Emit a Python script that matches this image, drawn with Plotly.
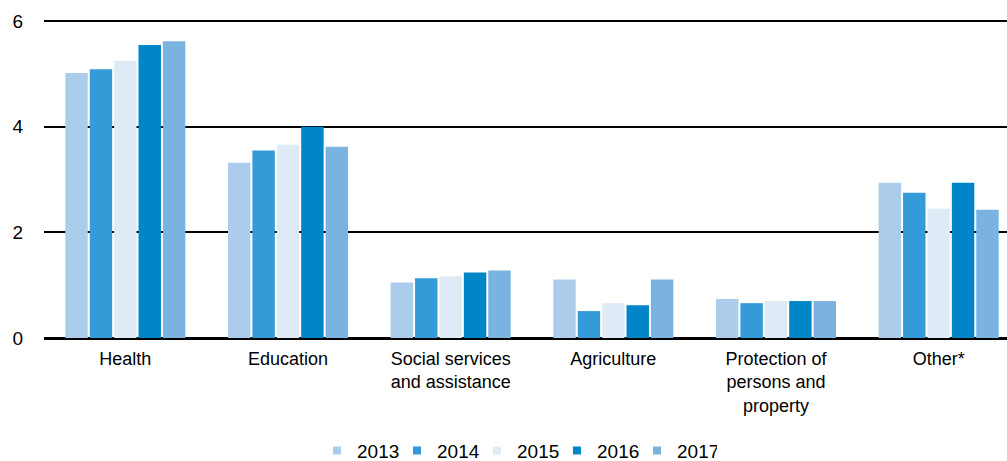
import plotly.graph_objects as go

categories = ["Health", "Education", "Social services<br>and assistance", "Agriculture",
              "Protection of<br>persons and<br>property", "Other*"]
years = ["2013", "2014", "2015", "2016", "2017"]
values_2013 = [5.02, 3.32, 1.05, 1.11, 0.74, 2.94]
values_2014 = [5.09, 3.55, 1.13, 0.51, 0.66, 2.75]
values_2015 = [5.25, 3.66, 1.17, 0.66, 0.70, 2.45]
values_2016 = [5.55, 4.00, 1.24, 0.62, 0.70, 2.94]
values_2017 = [5.62, 3.62, 1.28, 1.11, 0.70, 2.43]
series = [values_2013, values_2014, values_2015, values_2016, values_2017]
colors = ["#abcdeb", "#359bd8", "#deebf7", "#0085c8", "#7ab3e0"]

font_family = "Liberation Sans, Arial, sans-serif"
xpos = list(range(len(categories)))

fig = go.Figure()
for year, vals, col in zip(years, series, colors):
    fig.add_trace(go.Bar(
        name=year, x=xpos, y=vals, showlegend=False,
        marker=dict(color=col, line=dict(width=0)),
    ))
# small square swatches for the legend
for year, col in zip(years, colors):
    fig.add_trace(go.Scatter(
        name=year, x=[None], y=[None], mode="markers",
        marker=dict(symbol="square", size=8, color=col),
    ))

fig.update_layout(
    width=1007, height=461,
    margin=dict(l=44, r=0, t=18, b=123, pad=0, autoexpand=False),
    paper_bgcolor="white", plot_bgcolor="white",
    barmode="group", bargap=0.25, bargroupgap=0.08,
    font=dict(family=font_family, size=18, color="black"),
    showlegend=True,
    legend=dict(orientation="h", x=0.2835, xanchor="left",
                y=-0.352, yanchor="middle",
                font=dict(size=19), itemsizing="trace", traceorder="normal",
                itemwidth=30, entrywidth=35),
    xaxis=dict(
        tickmode="array", tickvals=xpos, ticktext=categories,
        range=[-0.5, 5.42], showgrid=False, showline=False, ticks="",
        tickfont=dict(size=18), ticklabelstandoff=8, automargin=False,
    ),
    yaxis=dict(
        range=[0, 6.06], tickvals=[0, 2, 4, 6], showgrid=True, gridcolor="black",
        gridwidth=1.5, zeroline=True, zerolinecolor="black", zerolinewidth=2.5,
        showline=False, ticks="", tickfont=dict(size=19), ticklabelstandoff=20,
        automargin=False,
    ),
)

fig.write_html("out.html")
